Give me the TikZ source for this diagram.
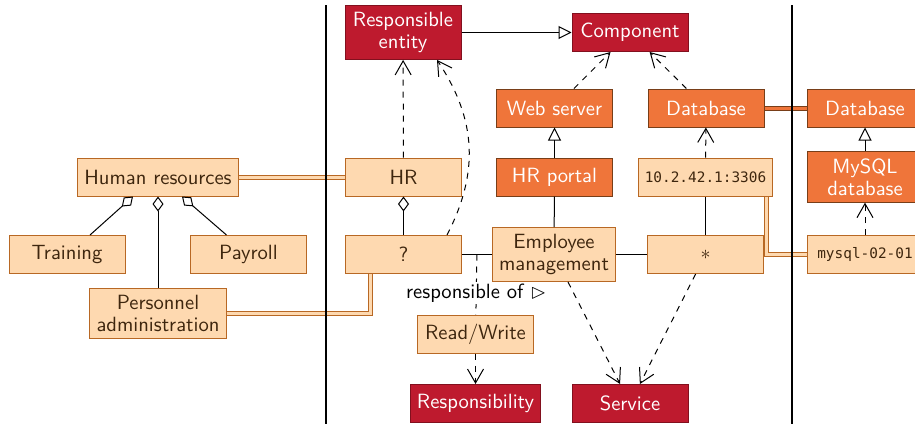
\documentclass[tikz,border=0pt]{standalone}
\usepackage{amssymb}
\usepackage{fontspec}
\setmonofont{DejaVu Sans Mono}[Scale=0.72]
\usepackage{tikz}
\usetikzlibrary{calc}
\usetikzlibrary{arrows.meta}

\definecolor{crimson}{RGB}{190,26,46}
\definecolor{crimsondark}{RGB}{130,16,30}
\definecolor{orangebox}{RGB}{239,117,58}
\definecolor{orangedark}{RGB}{120,62,24}
\definecolor{peach}{RGB}{254,217,176}
\definecolor{peachdark}{RGB}{184,104,36}
\definecolor{peachtext}{RGB}{62,38,14}

\tikzset{
    box/.style={rectangle, minimum width=58pt, minimum height=19pt, align=center, line width=0.5pt},
    concept/.style={box, fill=crimson, draw=crimsondark, text=white},
    techbox/.style={box, fill=orangebox, draw=orangedark, text=white},
    instbox/.style={box, fill=peach, draw=peachdark, text=peachtext},
    gen/.style={-{Triangle[open,length=6.5pt,width=6.5pt]}},
    real/.style={dashed,-{Straight Barb[length=7pt,width=8pt]}},
    aggr/.style={{Diamond[open,length=7.5pt,width=5.5pt]}-},
    peachlink/.style={draw=peachdark, double=peach, double distance=1.5pt, line width=0.5pt},
    orangelink/.style={draw=orangedark, double=orangebox, double distance=1.5pt, line width=0.5pt}
}

\begin{document}
\begin{tikzpicture}[x=0.5pt,y=-0.5pt,font=\sffamily\fontsize{10.3}{11}\selectfont,line width=0.5pt,>=latex]
    \useasboundingbox (0,0) rectangle (915,424);
    % left part
    \node[instbox] (hres) at (158,177) {Human resources};
    \node[instbox] (train) at (67,254.5) {Training};
    \node[instbox] (pay) at (248.5,254.5) {Payroll};
    \node[instbox] (pa) at (158,313.5) {Personnel\\administration};
    % middle part
    \node[concept] (re) at (403,32.5) {Responsible\\entity};
    \node[concept] (comp) at (630,32.5) {Component};
    \node[techbox] (web) at (554.5,108) {Web server};
    \node[techbox] (dbl) at (706,108) {Database};
    \node[instbox] (hr) at (403.5,177) {HR};
    \node[techbox] (portal) at (554.5,177) {HR portal};
    \node[instbox,font=\ttfamily] (ip) at (705.5,177) {10.2.42.1:3306};
    \node[instbox] (q) at (403.5,254.5) {?};
    \node[instbox] (em) at (554,254.5) {Employee\\management};
    \node[instbox] (star) at (705.5,254.5) {$*$};
    \node[instbox] (rw) at (475.5,334) {Read/Write};
    \node[concept] (resp) at (475.5,403.5) {Responsibility};
    \node[concept] (serv) at (630,403.5) {Service};
    % right part
    \node[techbox] (dbr) at (865,108) {Database};
    \node[techbox] (mysqldb) at (865,177) {MySQL\\database};
    \node[instbox,font=\ttfamily] (mysql) at (865,254.5) {mysql-02-01};

    \draw[aggr] ([xshift=-12.5pt]hres.south) -- ([xshift=11.5pt]train.north);
    \draw[aggr] ([xshift=12pt]hres.south) -- ([xshift=-11pt]pay.north);
    \draw[aggr] (hres) -- (pa);
    \draw[aggr] (hr) -- (q);

    \draw[gen] (re) -- (comp);
    \draw[gen] (portal) -- (web);
    \draw[gen] (mysqldb) -- (dbr);

    \draw[real] (web) -- (comp);
    \draw[real] (dbl) -- (comp);
    \draw[real] (ip) -- (dbl);
    \draw[real] (mysql) -- (mysqldb);
    \draw[real] (hr) -- (re);
    \draw[real] ([xshift=-7.5pt]q.north east) .. controls +(32,-62) and +(40,60) .. ([xshift=17pt]re.south);
    \draw[real] (rw) -- (resp);
    \draw[real] (em) -- (serv);
    \draw[real] (star) -- (serv);

    \draw (q) -- (em) coordinate[midway] (assoc);
    \draw (em) -- (portal);
    \draw (em) -- (star);
    \draw (star) -- (ip);
    \draw[dashed] (assoc) -- node[pos=0.64,fill=white,inner sep=1pt] {responsible of $\rhd$} (rw);

    \draw[peachlink] (hres) -- (hr);
    \draw[peachlink] (pa.east) -| ([xshift=-16.75pt]q.south);
    \draw[peachlink] ([xshift=-3.5pt]ip.south east) |- (mysql.west);
    \draw[orangelink] (dbl) -- (dbr);

    % separators
    \draw[line width=1pt] (326,5) -- (326,424);
    \draw[line width=1pt] (792,5) -- (792,424);
\end{tikzpicture}
\end{document}
